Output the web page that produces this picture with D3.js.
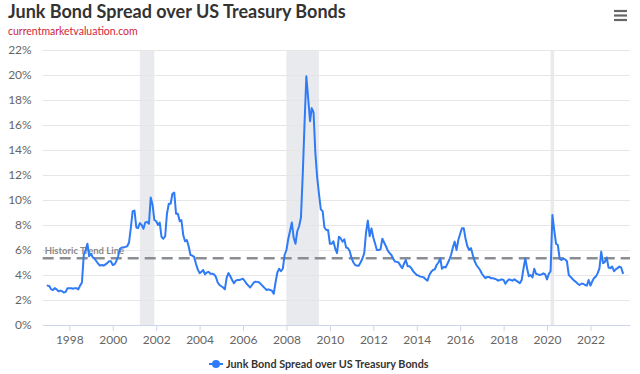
<!DOCTYPE html>
<html><head><meta charset="utf-8">
<script src="https://cdn.jsdelivr.net/npm/d3@7"></script>
<style>
html,body{margin:0;padding:0;background:#fff;}
svg{display:block;font-family:Lato,"Open Sans",sans-serif;}
</style></head>
<body><svg id="c" width="640" height="374"></svg>
<script>
// ---- data ----
const titleText = "Junk Bond Spread over US Treasury Bonds";
const subtitleText = "currentmarketvaluation.com";
const seriesName = "Junk Bond Spread over US Treasury Bonds";
const startMonth = "1997-01";
// monthly spread (%), Jan 1997 .. Jul 2023
const spread = [
 3.15,3.1,2.85,2.8,2.95,2.85,2.7,2.75,2.7,2.6,2.65,2.95,
 2.95,2.95,2.9,2.95,2.95,2.85,3.15,3.4,5.6,6.0,6.5,5.5,
 5.7,5.4,5.3,5.1,4.9,4.75,4.8,4.75,4.85,4.95,5.1,5.1,
 4.8,4.85,5.1,5.5,6.1,6.2,6.2,6.25,6.3,6.6,7.8,9.1,
 9.15,7.8,7.75,8.15,8.0,7.7,8.2,8.25,8.1,10.2,9.6,8.4,
 8.3,8.0,8.2,7.05,6.9,7.1,8.9,9.7,9.7,10.5,10.6,8.9,
 8.9,8.3,8.4,7.2,6.7,6.8,6.3,5.6,5.55,5.45,4.9,4.45,
 4.15,4.25,4.4,4.05,4.2,4.25,4.1,4.1,4.05,3.85,3.4,3.2,
 3.1,3.0,2.85,3.8,4.15,3.9,3.6,3.35,3.55,3.6,3.6,3.65,
 3.7,3.5,3.3,3.15,3.0,3.2,3.4,3.47,3.45,3.4,3.25,3.1,
 2.95,2.8,2.85,2.8,2.75,2.5,3.4,4.2,4.5,4.3,4.5,5.6,
 6.0,6.9,7.5,8.2,7.0,6.5,7.5,7.9,8.6,12.0,16.2,19.9,
 18.1,16.3,17.35,17.0,13.8,11.8,10.5,9.25,9.1,7.8,7.6,7.6,
 6.5,6.5,6.7,6.1,5.75,7.05,6.93,6.67,6.85,6.2,6.15,5.9,
 5.33,5.0,4.8,4.75,4.75,5.0,5.3,5.73,7.4,8.35,7.1,7.73,
 7.0,6.5,6.0,6.0,6.05,6.9,6.6,6.3,5.95,5.75,5.6,5.3,
 5.07,5.05,5.0,4.75,4.55,4.9,5.2,4.7,4.7,4.55,4.3,4.15,
 4.0,3.95,3.87,3.85,3.8,3.65,3.55,4.0,4.25,4.4,4.45,4.8,
 5.0,5.33,4.5,4.65,4.6,4.9,5.2,5.6,6.2,6.67,6.0,6.8,
 7.3,7.75,7.75,6.9,6.3,6.0,6.15,5.6,5.1,4.8,4.6,4.4,
 4.1,3.9,3.75,3.85,3.85,3.75,3.75,3.7,3.65,3.55,3.6,3.65,
 3.6,3.3,3.5,3.65,3.6,3.55,3.65,3.55,3.45,3.35,3.6,4.5,
 5.33,4.5,3.9,4.0,3.8,4.5,4.1,4.05,4.0,4.05,4.13,4.05,
 3.65,4.1,4.3,8.8,7.6,6.5,6.4,5.3,5.2,5.3,5.25,5.1,
 4.0,3.85,3.7,3.55,3.45,3.3,3.2,3.3,3.3,3.2,3.15,3.6,
 3.15,3.5,3.75,3.87,4.13,4.53,5.87,4.95,5.05,5.4,4.6,4.55,
 4.67,4.3,4.45,4.55,4.67,4.6,4.15
];
const trendValue = 5.35;
const trendLabel = "Historic Trend Line";
const recessionStarts = ["2001-04-01","2008-01-01","2020-03-01"];
const recessionEnds   = ["2001-11-30","2009-06-30","2020-04-30"];
const yTicks = [0,2,4,6,8,10,12,14,16,18,20,22];
const xTickYears = [1998,2000,2002,2004,2006,2008,2010,2012,2014,2016,2018,2020,2022];
const xDomain = ["1996-10-10","2023-10-28"];

// ---- chart ----
const parse = d3.utcParse("%Y-%m-%d");
const parseM = d3.utcParse("%Y-%m");
const t0 = parseM(startMonth);
const data = spread.map((v,i)=>({date:d3.utcMonth.offset(t0,i), value:v}));

const L = 42.7, R = 630, T = 50, B = 325;
const x = d3.scaleUtc().domain(xDomain.map(parse)).range([L,R]);
const y = d3.scaleLinear().domain([0,22]).range([B,T]);

const svg = d3.select("#c");

// recession bands
svg.append("g").selectAll("rect").data(recessionStarts.map((s,i)=>[parse(s),parse(recessionEnds[i])]))
  .join("rect")
  .attr("x",d=>x(d[0])).attr("width",d=>x(d[1])-x(d[0]))
  .attr("y",T).attr("height",B-T)
  .attr("fill","#e9eaee");

// y grid + labels
const yAxis = d3.axisLeft(y).tickValues(yTicks).tickSize(-(R-L)).tickFormat(d=>d+"%");
const gy = svg.append("g").attr("transform",`translate(${L},0)`).call(yAxis);
gy.select(".domain").remove();
gy.selectAll(".tick line").attr("stroke","#e6e6e6").attr("stroke-width",1);
gy.selectAll(".tick text").attr("x",-11).attr("dy","0.33em").attr("fill","#666")
  .style("font-size","12px").style("font-family","Lato,sans-serif");

// x axis
const xAxis = d3.axisBottom(x).tickValues(xTickYears.map(yr=>new Date(Date.UTC(yr,0,1))))
  .tickFormat(d3.utcFormat("%Y")).tickSize(6).tickSizeOuter(0);
const gx = svg.append("g").attr("transform",`translate(0,${B})`).call(xAxis);
gx.select(".domain").attr("stroke","#ccd6eb");
gx.selectAll(".tick line").attr("stroke","#ccd6eb");
gx.selectAll(".tick text").attr("fill","#666").attr("y",10).attr("dy","0.71em")
  .style("font-size","12px").style("font-family","Lato,sans-serif");

// trend line
svg.append("line").attr("x1",L).attr("x2",R).attr("y1",y(trendValue)).attr("y2",y(trendValue))
  .attr("stroke","#8a8d91").attr("stroke-width",2.5).attr("stroke-dasharray","11,6");
svg.append("text").attr("x",L+2).attr("y",y(trendValue)-4).text(trendLabel)
  .attr("fill","#8a8a8a").style("font-size","9.5px").style("font-weight","bold");

// series line
svg.append("path").datum(data)
  .attr("fill","none").attr("stroke","#2f7bf5").attr("stroke-width",2)
  .attr("stroke-linejoin","round").attr("stroke-linecap","round")
  .attr("d",d3.line().x(d=>x(d.date)).y(d=>y(d.value)));

// title & subtitle
svg.append("text").attr("x",8).attr("y",18).text(titleText)
  .attr("fill","#333").style("font-size","18px").style("font-weight","bold");
svg.append("text").attr("x",8).attr("y",35).text(subtitleText)
  .attr("fill","#d0253a").style("font-size","10.5px");

// menu icon
const menu = svg.append("g").attr("stroke","#666").attr("stroke-width",2.2);
[11,15.5,20].forEach(yy=>menu.append("line").attr("x1",614).attr("x2",627).attr("y1",yy).attr("y2",yy));

// legend
const lg = svg.append("g").attr("transform","translate(209,364)");
lg.append("line").attr("x1",0).attr("x2",14).attr("y1",0).attr("y2",0).attr("stroke","#2f7bf5").attr("stroke-width",2);
lg.append("circle").attr("cx",7).attr("cy",0).attr("r",4).attr("fill","#2f7bf5");
lg.append("text").attr("x",17).attr("y",4).text(seriesName)
  .attr("fill","#333").style("font-size","10.8px").style("font-weight","bold");
</script></body></html>
